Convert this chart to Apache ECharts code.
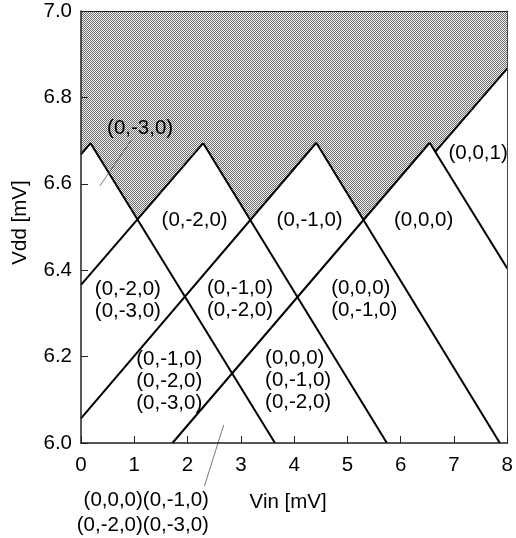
<!DOCTYPE html>
<html>
<head>
<meta charset="utf-8">
<script src="https://cdn.jsdelivr.net/npm/echarts@6/dist/echarts.min.js"></script>
<style>
  html, body { margin: 0; padding: 0; background: #fff; }
  #chart { width: 516px; height: 538px; }
</style>
</head>
<body>
<div id="chart"></div>
<script>
// Threshold lines of the stability diagram, end points as [Vin, Vdd] in mV
const risingLines = [
  [[0, 6.668], [0.18, 6.694]],
  [[0, 6.366], [2.294, 6.694]],
  [[0, 6.057], [4.415, 6.695]],
  [[1.716, 6.0], [6.543, 6.695]],
  [[6.648, 6.674], [8, 6.867]]
];
const fallingLines = [
  [[0.18, 6.694], [3.64, 6.0]],
  [[2.294, 6.694], [5.74, 6.0]],
  [[4.415, 6.695], [7.86, 6.0]],
  [[6.543, 6.695], [8, 6.404]]
];

// Lower edge of the shaded (no stable state) region
const shadedBoundary = [
  [0, 6.668], [0.18, 6.694], [1.059, 6.517], [2.294, 6.694], [3.177, 6.516],
  [4.415, 6.695], [5.301, 6.516], [6.543, 6.695], [6.648, 6.674], [8, 6.867]
];

// Thin pointer lines from a label to its region
const leaderLines = [
  [[0.943, 6.701], [0.353, 6.595]],
  [[2.679, 6.042], [2.316, 5.900]]
];

// Charge states; each label is anchored at its left edge, vertically centred
const stateLabels = [
  '(0,-3,0)', '(0,-2,0)', '(0,-1,0)', '(0,0,0)', '(0,0,1)',
  '(0,-2,0)\n(0,-3,0)', '(0,-1,0)\n(0,-2,0)', '(0,-1,0)\n(0,-2,0)\n(0,-3,0)',
  '(0,0,0)\n(0,-1,0)', '(0,0,0)\n(0,-1,0)\n(0,-2,0)'
];
const stateX = [0.489, 1.513, 3.671, 5.873, 6.896, 0.260, 2.363, 1.036, 4.694, 3.455];
const stateY = [6.729, 6.516, 6.516, 6.516, 6.671, 6.330, 6.333, 6.142, 6.333, 6.145];

// Label below the axis, anchored at its right edge
const footLabel = '(0,0,0)(0,-1,0)\n(0,-2,0)(0,-3,0)';
const footX = 2.40;
const footY = 5.839;

const xMin = 0, xMax = 8, xStep = 1;
const yMin = 6.0, yMax = 7.0, yStep = 0.2;

// Halftone-like fill for the shaded region
function halftone() {
  const c = document.createElement('canvas');
  c.width = 2; c.height = 2;
  const g = c.getContext('2d');
  g.fillStyle = '#f0f0f0'; g.fillRect(0, 0, 2, 2);
  g.fillStyle = '#707070';
  g.fillRect(0, 0, 1, 1);
  g.fillRect(1, 1, 1, 1);
  return c;
}

const FONT = 'Liberation Sans, Arial, Helvetica, sans-serif';
const chart = echarts.init(document.getElementById('chart'), null, { renderer: 'canvas' });

const series = [];

series.push({
  type: 'line',
  data: shadedBoundary,
  symbol: 'none',
  lineStyle: { width: 0 },
  areaStyle: { origin: 'end', opacity: 1, color: { image: halftone(), repeat: 'repeat' } },
  silent: true,
  z: 1
});

risingLines.concat(fallingLines).forEach(function (seg) {
  series.push({
    type: 'line',
    data: seg,
    symbol: 'none',
    lineStyle: { color: '#000', width: 2 },
    silent: true,
    z: 3
  });
});

leaderLines.forEach(function (seg) {
  series.push({
    type: 'line',
    data: seg,
    symbol: 'none',
    clip: false,
    lineStyle: { color: '#555', width: 0.8 },
    silent: true,
    z: 3
  });
});

function textSeries(points, align, lineHeight) {
  return {
    type: 'scatter',
    data: points,
    symbolSize: 0,
    clip: false,
    silent: true,
    z: 4,
    itemStyle: { opacity: 1 },
    label: {
      show: true,
      position: [0, 0],
      align: align,
      verticalAlign: 'middle',
      formatter: function (p) { return p.name; },
      fontFamily: FONT,
      fontSize: 20.5,
      lineHeight: lineHeight,
      color: '#000',
      opacity: 1
    }
  };
}

series.push(textSeries(
  stateLabels.map(function (t, i) { return { value: [stateX[i], stateY[i]], name: t }; }),
  'left', 22));
series.push(textSeries([{ value: [footX, footY], name: footLabel }], 'right', 25));

chart.setOption({
  animation: false,
  backgroundColor: '#fff',
  grid: { left: 81, right: 5, top: 11, bottom: 95, show: false },
  xAxis: [{
    type: 'value', min: xMin, max: xMax, interval: xStep,
    name: 'Vin [mV]', nameLocation: 'middle', nameGap: 49,
    nameTextStyle: { fontFamily: FONT, fontSize: 20.5, color: '#000', padding: [0, 12, 0, 0] },
    axisLine: { show: true, onZero: false, lineStyle: { color: '#222', width: 1.5 } },
    axisTick: { show: true, inside: true, length: 7, lineStyle: { color: '#222', width: 1 } },
    axisLabel: { fontFamily: FONT, fontSize: 20.5, color: '#000', margin: 12 },
    splitLine: { show: false },
    z: 5
  }, {
    type: 'value', min: xMin, max: xMax, position: 'top',
    axisLine: { show: true, onZero: false, lineStyle: { color: '#222', width: 1 } },
    axisTick: { show: false }, axisLabel: { show: false }, splitLine: { show: false },
    z: 5
  }],
  yAxis: [{
    type: 'value', min: yMin, max: yMax, interval: yStep,
    name: 'Vdd [mV]', nameLocation: 'middle', nameGap: 50,
    nameTextStyle: { fontFamily: FONT, fontSize: 20.5, color: '#000', padding: [0, 0, 0, 9] },
    axisLine: { show: true, onZero: false, lineStyle: { color: '#222', width: 1.5 } },
    axisTick: { show: true, inside: true, length: 7, lineStyle: { color: '#222', width: 1 } },
    axisLabel: { fontFamily: FONT, fontSize: 20.5, color: '#000', margin: 9,
      formatter: function (v) { return v.toFixed(1); } },
    splitLine: { show: false },
    z: 5
  }, {
    type: 'value', min: yMin, max: yMax, position: 'right',
    axisLine: { show: true, onZero: false, lineStyle: { color: '#444', width: 1 } },
    axisTick: { show: false }, axisLabel: { show: false }, splitLine: { show: false },
    z: 5
  }],
  series: series
});
</script>
</body>
</html>
